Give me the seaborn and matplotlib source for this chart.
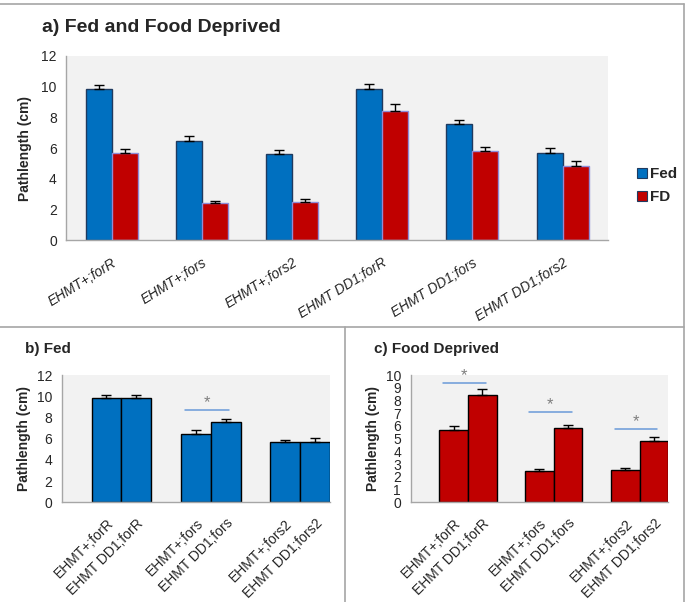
import pandas as pd
import numpy as np
import matplotlib
matplotlib.use("Agg")
import matplotlib.pyplot as plt
import seaborn as sns

sns.set_style("white")
plt.rcParams['font.family'] = ['Liberation Sans', 'DejaVu Sans']

# data
genotypes = ["EHMT+;forR", "EHMT+;fors", "EHMT+;fors2",
             "EHMT DD1;forR", "EHMT DD1;fors", "EHMT DD1;fors2"]
fed_mean = [9.83, 6.48, 5.65, 9.83, 7.60, 5.72]
fed_err = [0.28, 0.30, 0.22, 0.32, 0.25, 0.30]
fd_mean = [5.70, 2.43, 2.50, 8.40, 5.80, 4.85]
fd_err = [0.28, 0.17, 0.22, 0.50, 0.30, 0.30]
constructs = ["forR", "fors", "fors2"]

# significance bars (construct index, level)
sig_fed = [(1, 8.7)]
sig_fd = [(0, 9.35), (1, 7.07), (2, 5.78)]

blue = "#0070C0"
red = "#C00000"
gray = "#A6A6A6"
bg = "#F2F2F2"

df = pd.DataFrame({
    "genotype": genotypes * 2,
    "condition": ["Fed"] * 6 + ["FD"] * 6,
    "mean": fed_mean + fd_mean,
    "err": fed_err + fd_err,
})

# order for panels b and c: blank spacer category, then the pair
order9 = []
for i, c in enumerate(constructs):
    order9 += [" " * (i + 1), "EHMT+;" + c, "EHMT DD1;" + c]

fig = plt.figure(figsize=(6.89, 6.02), dpi=100)


def style_axes(ax, n):
    ax.set_facecolor(bg)
    for s in ["top", "right"]:
        ax.spines[s].set_visible(False)
    for s in ["left", "bottom"]:
        ax.spines[s].set_color(gray)
        ax.spines[s].set_linewidth(1)
    ax.set_xticks(np.arange(-0.5, n, 1), minor=True)
    ax.tick_params(axis="x", which="major", length=0, pad=8)
    ax.tick_params(axis="x", which="minor", length=4, color=gray, width=1)
    ax.tick_params(axis="y", length=4, color=gray, width=1, labelsize=10, pad=3)
    ax.set_xlim(-0.5, n - 0.5)
    ax.set_xlabel("")


def add_err(ax, container, errs):
    xs = [p.get_x() + p.get_width() / 2 for p in container.patches]
    ys = [p.get_height() for p in container.patches]
    ax.errorbar(xs, ys, yerr=[np.zeros(len(errs)), errs], fmt="none",
                ecolor="black", elinewidth=1, capsize=3.5, capthick=1, zorder=3)


# ---- a) Fed and Food Deprived
axa = fig.add_axes([0.0965, 0.6005, 0.7855, 0.3065])
sns.barplot(data=df, x="genotype", y="mean", hue="condition", order=genotypes,
            hue_order=["Fed", "FD"], palette=[blue, red], width=0.575,
            errorbar=None, ax=axa, saturation=1)
for cont, edge in zip(axa.containers, ["#1F3A5F", "#8E8CD8"]):
    for p in cont.patches:
        p.set_edgecolor(edge)
        p.set_linewidth(1)
add_err(axa, axa.containers[0], fed_err)
add_err(axa, axa.containers[1], fd_err)
style_axes(axa, 6)
axa.set_ylim(0, 12)
axa.set_yticks(range(0, 13, 2))
axa.set_xticks(range(6))
axa.set_xticklabels(genotypes, rotation=32, ha="right", rotation_mode="anchor",
                    fontsize=10, fontstyle="italic")
axa.tick_params(axis="x", which="major", pad=11)
axa.set_ylabel("Pathlength (cm)", fontsize=10, fontweight="bold", labelpad=7)
leg = axa.legend(loc="upper left", bbox_to_anchor=(0.905, 0.745),
                 bbox_transform=fig.transFigure, frameon=False,
                 handlelength=0.65, handleheight=0.65, handletextpad=0.2,
                 labelspacing=0.6, prop={"size": 11, "weight": "bold"})
for h in leg.legend_handles:
    h.set_edgecolor("#1F3A5F")
    h.set_linewidth(0.8)
fig.text(0.061, 0.955, "a) Fed and Food Deprived", fontsize=14,
         fontweight="bold", va="center")


def pair_panel(rect, means, errs, color, ymax, ystep, sigs, title, tx):
    ax = fig.add_axes(rect)
    d = pd.DataFrame({"genotype": genotypes, "mean": means, "err": errs})
    sns.barplot(data=d, x="genotype", y="mean", order=order9, color=color,
                width=1, errorbar=None, ax=ax, saturation=1,
                edgecolor="black", linewidth=1)
    err_map = dict(zip(genotypes, errs))
    patches = ax.containers[0].patches
    labs = [order9[int(round(p.get_x() + p.get_width() / 2))] for p in patches]
    add_err(ax, ax.containers[0], [err_map[l] for l in labs])
    style_axes(ax, 9)
    ax.set_ylim(0, ymax)
    ax.set_yticks(np.arange(0, ymax + 0.1, ystep))
    ax.set_xticks(range(9))
    ax.set_xticklabels([l if l.strip() else "" for l in order9], rotation=45,
                       ha="right", rotation_mode="anchor", fontsize=10)
    ax.tick_params(axis="x", which="major", pad=10)
    ax.set_ylabel("Pathlength (cm)", fontsize=10, fontweight="bold", labelpad=4)
    for k, lvl in sigs:
        x0 = 3 * k + 1 - 0.37
        x1 = 3 * k + 2 + 0.12
        ax.plot([x0, x1], [lvl, lvl], color="#6A9AD8", lw=1.1, clip_on=False)
        ax.annotate("*", ((x0 + x1) / 2, lvl), xytext=(0, 0),
                    textcoords="offset points", ha="center", va="bottom",
                    color="#7F7F7F", fontsize=12, annotation_clip=False)
    fig.text(tx, 0.42, title, fontsize=11, fontweight="bold", va="center")
    return ax


pair_panel([0.0896, 0.1656, 0.3894, 0.2114], fed_mean, fed_err, blue, 12, 2,
           sig_fed, "b) Fed", 0.036)
pair_panel([0.596, 0.1656, 0.374, 0.2114], fd_mean, fd_err, red, 10, 1,
           sig_fd, "c) Food Deprived", 0.543)

# panel frames
fig.add_artist(plt.Line2D([0, 684 / 689], [1 - 3.5 / 602, 1 - 3.5 / 602],
                          color=gray, lw=1.2, transform=fig.transFigure))
fig.add_artist(plt.Line2D([684 / 689, 684 / 689], [0, 1 - 3.5 / 602],
                          color=gray, lw=1.2, transform=fig.transFigure))
fig.add_artist(plt.Line2D([0, 684 / 689], [1 - 327 / 602, 1 - 327 / 602],
                          color=gray, lw=1.2, transform=fig.transFigure))
fig.add_artist(plt.Line2D([345 / 689, 345 / 689], [0, 1 - 327 / 602],
                          color=gray, lw=1.2, transform=fig.transFigure))

fig.savefig("out.png", dpi=100)
